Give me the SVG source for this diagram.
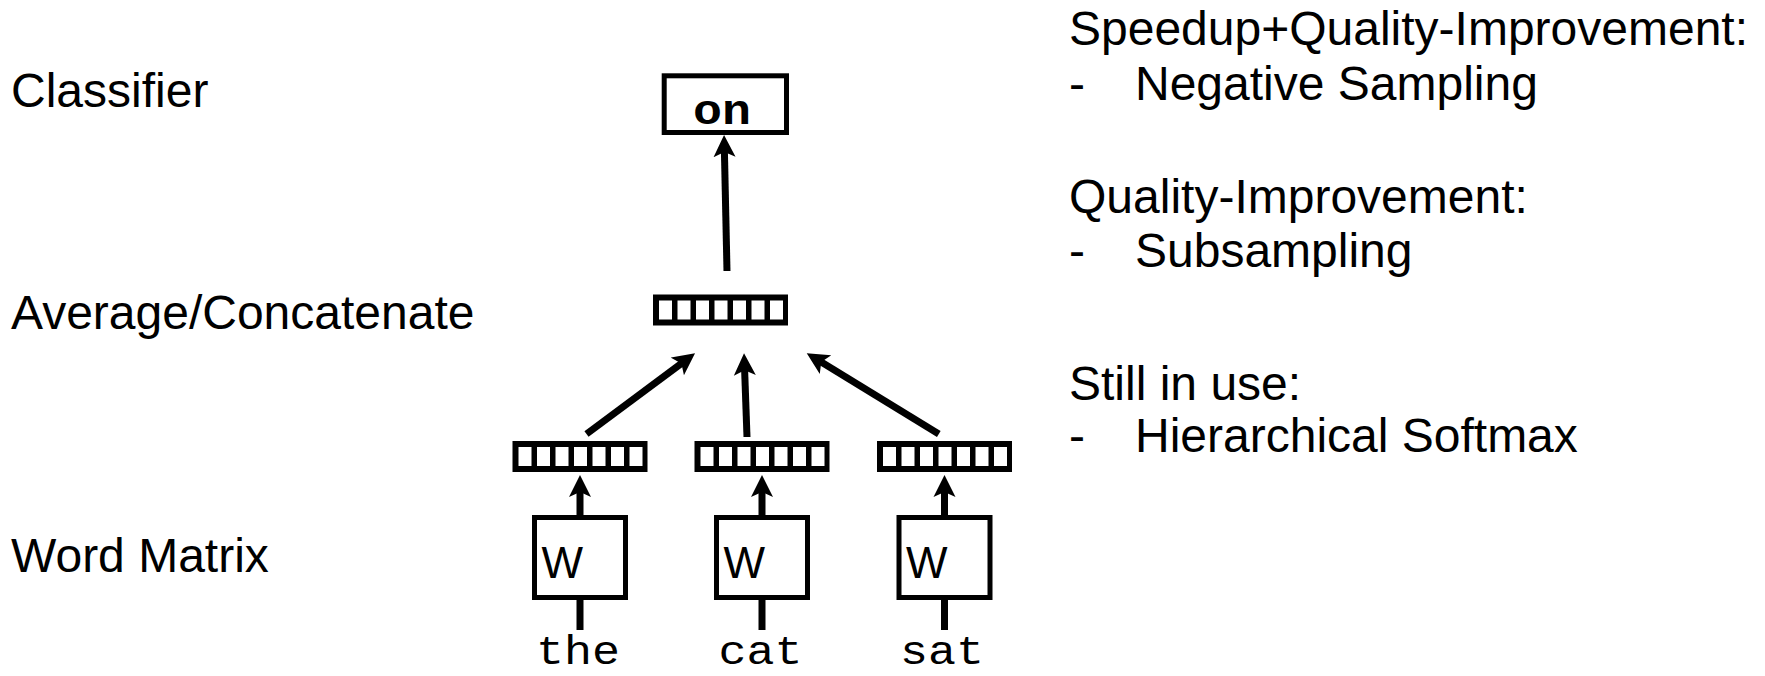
<svg xmlns="http://www.w3.org/2000/svg" xmlns:xlink="http://www.w3.org/1999/xlink" width="1765" height="676" viewBox="0 0 1765 676">
  <style>
    .label { font-family: "Liberation Sans", Arial, sans-serif; font-size: 48px; fill: #000; }
    .mono { font-family: "Liberation Mono", "Courier New", monospace; fill: #000; }
    .word { font-size: 40px; }
    .out { font-size: 42px; font-weight: bold; }
    .wlabel { font-family: "Liberation Sans", Arial, sans-serif; font-size: 44px; fill: #000; }
    .box { fill: #fff; stroke: #000; stroke-width: 5; }
    .edge { stroke: #000; stroke-width: 7; fill: none; marker-end: url(#head); }
    .stem { stroke: #000; stroke-width: 7; fill: none; }
  </style>
  <defs>
    <!-- swept-back arrowhead, sized in user units -->
    <marker id="head" markerUnits="userSpaceOnUse" markerWidth="24" markerHeight="24" viewBox="0 -12 24 24" refX="6" refY="0" orient="auto">
      <path d="M0,-11 L22,0 L0,11 L5,0 Z" fill="#000"/>
    </marker>
    <!-- embedding vector: black frame with seven white cells -->
    <g id="vec">
      <rect x="0" y="0" width="135" height="31" fill="#000"/>
      <g fill="#fff">
        <rect x="6" y="6" width="13" height="19"/>
        <rect x="24.5" y="6" width="13" height="19"/>
        <rect x="43" y="6" width="13" height="19"/>
        <rect x="61.5" y="6" width="13" height="19"/>
        <rect x="80" y="6" width="13" height="19"/>
        <rect x="98.5" y="6" width="13" height="19"/>
        <rect x="117" y="6" width="13" height="19"/>
      </g>
    </g>
  </defs>

  <rect x="0" y="0" width="1765" height="676" fill="#fff"/>

  <!-- layer labels -->
  <g id="layer-labels">
    <text class="label" x="11" y="107">Classifier</text>
    <text class="label" x="11" y="329">Average/Concatenate</text>
    <text class="label" x="11" y="572">Word Matrix</text>
  </g>

  <!-- connectors -->
  <g id="connectors">
    <line class="edge" x1="727" y1="271" x2="724.4" y2="151"/>
    <line class="edge" x1="586.5" y1="434" x2="682.2" y2="362.9"/>
    <line class="edge" x1="747" y1="437" x2="744.6" y2="369.3"/>
    <line class="edge" x1="938.8" y1="434" x2="820.4" y2="361.6"/>
    <line class="edge" x1="580" y1="516" x2="580" y2="491"/>
    <line class="edge" x1="762" y1="516" x2="762" y2="491"/>
    <line class="edge" x1="944.5" y1="516" x2="944.5" y2="491"/>
    <line class="stem" x1="580" y1="600" x2="580" y2="630"/>
    <line class="stem" x1="762" y1="600" x2="762" y2="630"/>
    <line class="stem" x1="944.5" y1="600" x2="944.5" y2="630"/>
  </g>

  <!-- classifier output -->
  <g id="node-on">
    <rect class="box" x="664.2" y="75.8" width="122.3" height="56.7"/>
    <text class="mono out" x="722" y="124" text-anchor="middle" textLength="58" lengthAdjust="spacingAndGlyphs">on</text>
  </g>

  <!-- averaged / concatenated vector -->
  <g id="node-avg">
    <use xlink:href="#vec" x="653" y="294.5"/>
  </g>

  <!-- word vectors -->
  <g id="node-vec-the">
    <use xlink:href="#vec" x="512.5" y="441"/>
  </g>
  <g id="node-vec-cat">
    <use xlink:href="#vec" x="694.5" y="441"/>
  </g>
  <g id="node-vec-sat">
    <use xlink:href="#vec" x="877" y="441"/>
  </g>

  <!-- shared word matrix W -->
  <g id="node-w-the">
    <rect class="box" x="534.5" y="517.5" width="91" height="80"/>
    <text class="wlabel" x="541.5" y="578">W</text>
  </g>
  <g id="node-w-cat">
    <rect class="box" x="716.5" y="517.5" width="91" height="80"/>
    <text class="wlabel" x="723.5" y="578">W</text>
  </g>
  <g id="node-w-sat">
    <rect class="box" x="899" y="517.5" width="91" height="80"/>
    <text class="wlabel" x="906" y="578">W</text>
  </g>

  <!-- input words -->
  <g id="node-the">
    <text class="mono word" x="578" y="664" text-anchor="middle" textLength="84" lengthAdjust="spacingAndGlyphs">the</text>
  </g>
  <g id="node-cat">
    <text class="mono word" x="760.5" y="664" text-anchor="middle" textLength="84" lengthAdjust="spacingAndGlyphs">cat</text>
  </g>
  <g id="node-sat">
    <text class="mono word" x="942" y="664" text-anchor="middle" textLength="84" lengthAdjust="spacingAndGlyphs">sat</text>
  </g>

  <!-- notes on training tricks -->
  <g id="notes">
    <text class="label" x="1069" y="45">Speedup+Quality-Improvement:</text>
    <text class="label" x="1069" y="100">-</text>
    <text class="label" x="1135" y="100">Negative Sampling</text>
    <text class="label" x="1069" y="213">Quality-Improvement:</text>
    <text class="label" x="1069" y="267">-</text>
    <text class="label" x="1135" y="267">Subsampling</text>
    <text class="label" x="1069" y="400">Still in use:</text>
    <text class="label" x="1069" y="452">-</text>
    <text class="label" x="1135" y="452">Hierarchical Softmax</text>
  </g>
</svg>
